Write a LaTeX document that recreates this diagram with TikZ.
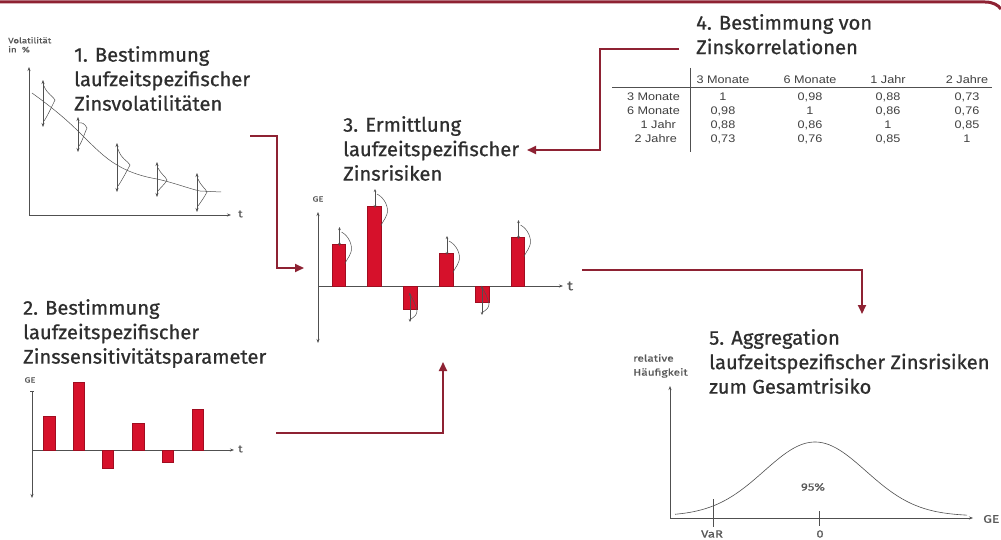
\documentclass[tikz,border=0pt]{standalone}
\usepackage{fontspec}
\setmainfont{Fira Sans}
\newfontfamily\titlefont{Fira Sans}[FakeBold=0.7, FakeStretch=1.02]
\newfontfamily\labfont{Fira Sans}[FakeStretch=1.25, FakeBold=0.6]
\newfontfamily\tabfont{Liberation Sans}[FakeStretch=1.15]
\usetikzlibrary{arrows.meta}
\definecolor{linkred}{HTML}{8E2233}
\definecolor{barred}{HTML}{D6112B}
\definecolor{txt}{HTML}{2E2E2E}
\definecolor{axisgray}{HTML}{505050}
\tikzset{
  title/.style={anchor=north west, align=left, text=txt, inner sep=0pt,
    font=\titlefont\fontsize{19.8}{24.5}\selectfont},
  link/.style={draw=linkred, line width=2pt, -{Triangle[length=9pt,width=8pt]}},
  axis/.style={draw=axisgray, line width=0.8pt},
  tip/.style={-{Stealth[length=4pt,width=3pt]}},
  dtip/.style={{Stealth[length=4pt,width=3pt]}-{Stealth[length=4pt,width=3pt]}},
  stip/.style={{Stealth[length=3pt,width=2.5pt]}-{Stealth[length=3pt,width=2.5pt]}},
  bar/.style={fill=barred, draw=barred!75!black, line width=0.4pt},
  thin/.style={draw=axisgray, line width=0.5pt},
  small/.style={text=txt!80, inner sep=0pt, font=\labfont\fontsize{9}{10}\selectfont},
  tab/.style={text=black!75, inner sep=0pt, font=\tabfont\fontsize{11}{12}\selectfont},
}
\newcommand\volarrow[5]{% x, top, bottom, peak x, peak y
  \draw[thin, dtip] (#1,#2) -- (#1,#3);
  \draw[thin] ({#1+1},{#2+6}) .. controls ({#1+4},{#5-6}) and ({#4-2},{#5-4}) .. (#4,#5)
    .. controls ({#4-2},{#5+4}) and ({#1+4},{#3-10}) .. ({#1+1},{#3-6});}
\newcommand\riskup[3]{% x1, x2, top
  \fill[bar] (#1,286) rectangle (#2,#3);
  \draw[thin, stip] ({(#1+#2)/2+1},{#3+2}) -- ({(#1+#2)/2+1},{#3-17});
  \draw[thin] ({(#1+#2)/2+3},{#3-12}) .. controls ({#2+4},{#3-8}) and ({#2+8},{#3+2}) .. ({#2+6},{#3+8})
    .. controls ({#2+4},{#3+14}) and ({#2+1},{#3+16}) .. (#2,{#3+20});}
\newcommand\riskdown[3]{% x1, x2, bottom
  \fill[bar] (#1,286) rectangle (#2,#3);
  \draw[thin, stip] ({(#1+#2)/2},{#3-16}) -- ({(#1+#2)/2},{#3+13});
  \draw[thin] ({(#1+#2)/2-1},{#3-16}) .. controls ({(#1+#2)/2+3},{#3-10}) and ({#2-1},{#3-4}) .. ({#2},{#3+2})
    .. controls ({#2},{#3+6}) and ({(#1+#2)/2+4},{#3+8}) .. ({(#1+#2)/2+1},{#3+10});}
\begin{document}
\begin{tikzpicture}[x=1pt,y=-1pt]
\useasboundingbox (0,0) rectangle (1001,540);
\fill[white] (0,0) rectangle (1001,540);
% top border
\draw[linkred, line width=3pt] (0,2) -- (985,2) .. controls (993,2) and (998,5) .. (1001,9);

% ---------- Panel 1 ----------
\node[title] (t1) at (74,46) {1. Bestimmung\\laufzeitspezifischer\\Zinsvolatilitäten};
\node[small, anchor=north west, align=left, font=\labfont\fontsize{7.8}{9}\selectfont] (vl) at (8,37) {Volatilität\\in\ \ \%};
\draw[axis, tip] (29,215) -- (29,67);
\draw[axis, tip] (29,215) -- (231,215);
\node[small, font=\labfont\fontsize{10}{11}\selectfont, anchor=west] (t1t) at (238,214) {t};
\draw[thin] (32,93) .. controls (50,106) and (65,118) .. (80,133)
  .. controls (95,148) and (105,158) .. (117,165)
  .. controls (130,173) and (145,177) .. (157,179)
  .. controls (175,183) and (190,189) .. (200,191) -- (221,192);
\volarrow{43}{80}{127}{55}{100}
\volarrow{78}{117}{152}{87}{128}
\volarrow{117}{143}{192}{130}{165}
\volarrow{157}{162}{197}{167}{180}
\volarrow{197}{173}{212}{207}{192}

% ---------- Panel 2 ----------
\node[title] (t2) at (23,299) {2. Bestimmung\\laufzeitspezifischer\\Zinssensitivitätsparameter};
\node[small, font=\labfont\fontsize{7.5}{8}\selectfont] (ge2) at (30,380) {GE};
\draw[axis, {Bar[width=4pt]}-{Stealth[length=4pt,width=3pt]}] (32,391) -- (32,498);
\draw[axis, tip] (32,450) -- (234,450);
\node[small, font=\labfont\fontsize{10}{11}\selectfont, anchor=west] (t2t) at (238,449) {t};
\fill[bar] (43,450) rectangle (55,416);
\fill[bar] (73,450) rectangle (84,382);
\fill[bar] (102,450) rectangle (113,468);
\fill[bar] (132,450) rectangle (144,423);
\fill[bar] (162,450) rectangle (173,462);
\fill[bar] (192,450) rectangle (203,409);

% ---------- Panel 3 ----------
\node[title] (t3) at (343,116) {3. Ermittlung\\laufzeitspezifischer\\Zinsrisiken};
\node[small, font=\labfont\fontsize{7.5}{8}\selectfont] (ge3) at (318,199) {GE};
\draw[axis, dtip] (318,212) -- (318,343);
\draw[axis, tip] (318,286) -- (563,286);
\node[small, font=\labfont\fontsize{13}{14}\selectfont, anchor=west] (t3t) at (567,286) {t};
\riskup{332}{345}{244}
\riskup{367}{381}{206}
\riskdown{403}{417}{309}
\riskup{439}{453}{253}
\riskdown{475}{489}{302}
\riskup{511}{524}{237}

% ---------- Panel 4 ----------
\node[title] (t4) at (696,14) {4. Bestimmung von\\Zinskorrelationen};
\draw[axisgray, line width=0.8pt] (612,87) -- (992,87);
\draw[axisgray, line width=0.8pt] (690,68) -- (690,152);
\node[tab] (h1) at (723,80) {3 Monate};
\node[tab] (h2) at (810,80) {6 Monate};
\node[tab] (h3) at (888,80) {1 Jahr};
\node[tab] (h4) at (967,80) {2 Jahre};
\node[tab, anchor=east] (r1) at (680,97) {3 Monate};
\node[tab, anchor=east] (r2) at (680,111) {6 Monate};
\node[tab, anchor=east] (r3) at (676,125) {1 Jahr};
\node[tab, anchor=east] (r4) at (677,139) {2 Jahre};
\node[tab] (c11) at (723,97) {1};
\node[tab] (c12) at (810,97) {0,98};
\node[tab] (c13) at (888,97) {0,88};
\node[tab] (c14) at (967,97) {0,73};
\node[tab] (c21) at (723,111) {0,98};
\node[tab] (c22) at (810,111) {1};
\node[tab] (c23) at (888,111) {0,86};
\node[tab] (c24) at (967,111) {0,76};
\node[tab] (c31) at (723,125) {0,88};
\node[tab] (c32) at (810,125) {0,86};
\node[tab] (c33) at (888,125) {1};
\node[tab] (c34) at (967,125) {0,85};
\node[tab] (c41) at (723,139) {0,73};
\node[tab] (c42) at (810,139) {0,76};
\node[tab] (c43) at (888,139) {0,85};
\node[tab] (c44) at (967,139) {1};

% ---------- Panel 5 ----------
\node[title] (t5) at (709,329) {5. Aggregation\\laufzeitspezifischer Zinsrisiken\\zum Gesamtrisiko};
\node[small, anchor=north west, align=left, font=\labfont\fontsize{9.5}{14}\selectfont] (rh) at (633,354) {relative\\Häufigkeit};
\draw[axis, tip] (670,518) -- (670,386);
\draw[axis, tip] (670,518) -- (973,518);
\node[small, anchor=west, font=\labfont\fontsize{11}{12}\selectfont] (ge5) at (983,519) {GE};
\draw[thin] (713,499) -- (713,527);
\draw[thin] (819,511) -- (819,526);
\node[small, font=\labfont\fontsize{10.5}{12}\selectfont] (var) at (712,534) {VaR};
\node[small, font=\labfont\fontsize{10.5}{12}\selectfont] (zero) at (820,534) {0};
\node[small, font=\labfont\fontsize{10.5}{12}\selectfont] (p95) at (813,487) {95\%};
\draw[thin, line width=0.6pt] plot[domain=675:967, samples=90, smooth] (\x, {516-74*exp(-0.5*((\x-815)/51)^2)});

% ---------- Connectors ----------
\coordinate (a1) at (250,136);
\coordinate (k1) at (277,136);
\coordinate (a1e) at (304,268);
\draw[link] (a1) -- (k1) |- (a1e);
\coordinate (a2) at (276,433);
\coordinate (a2e) at (443,362);
\draw[link] (a2) -| (a2e);
\coordinate (a4) at (679,49);
\coordinate (k4) at (600,49);
\coordinate (a4e) at (527,150);
\draw[link] (a4) -- (k4) |- (a4e);
\coordinate (a3) at (582,270);
\coordinate (a3e) at (862,314);
\draw[link] (a3) -| (a3e);
\end{tikzpicture}
\end{document}
